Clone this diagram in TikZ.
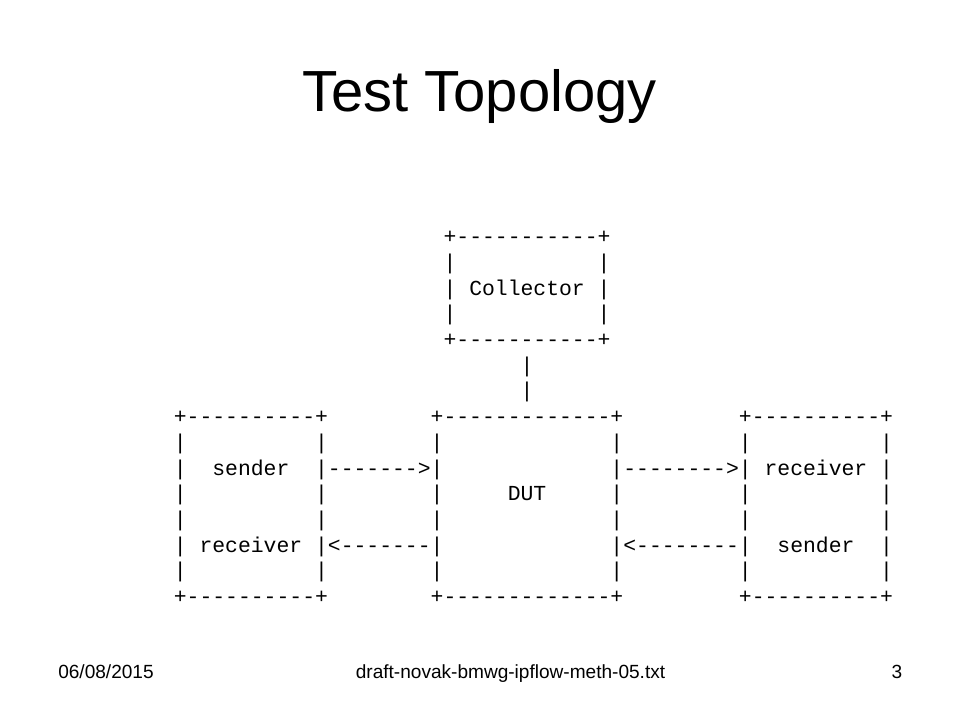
\documentclass[tikz,border=0pt]{standalone}
\usepackage{fontspec}
\setmainfont{Liberation Sans}
\setmonofont{Liberation Mono}
\tikzset{
  slidetitle/.style={anchor=base, inner sep=0pt, font=\fontsize{43.5}{50}\selectfont},
  ascii/.style={anchor=base west, inner sep=0pt, font=\ttfamily\fontsize{16.05}{19}\selectfont},
  footer/.style={anchor=base, inner sep=0pt, font=\fontsize{14.3}{17}\selectfont},
}
\begin{document}
\begin{tikzpicture}[x=0.75pt,y=-0.75pt]
	\fill[white] (0,0) rectangle (960,720);
	\node[slidetitle] (title) at (479.5,112) {Test Topology};
	% collector box, column 21
	\node[ascii] (row0) at (443.3,243.7) {+-----------+};
	\node[ascii] (row1) at (443.3,269.4) {|~~~~~~~~~~~|};
	\node[ascii] (row2) at (443.3,295.1) {|~Collector~|};
	\node[ascii] (row3) at (443.3,320.8) {|~~~~~~~~~~~|};
	\node[ascii] (row4) at (443.3,346.5) {+-----------+};
	% link down to the DUT, column 27
	\node[ascii] (row5) at (520.3,372.2) {|};
	\node[ascii] (row6) at (520.3,397.9) {|};
	% sender/receiver, DUT, receiver/sender
	\node[ascii] (row7) at (173.6,423.6) {+----------+~~~~~~~~+-------------+~~~~~~~~~+----------+};
	\node[ascii] (row8) at (173.6,449.3) {|~~~~~~~~~~|~~~~~~~~|~~~~~~~~~~~~~|~~~~~~~~~|~~~~~~~~~~|};
	\node[ascii] (row9) at (173.6,475.0) {|~~sender~~|------->|~~~~~~~~~~~~~|-------->|~receiver~|};
	\node[ascii] (row10) at (173.6,500.7) {|~~~~~~~~~~|~~~~~~~~|~~~~~DUT~~~~~|~~~~~~~~~|~~~~~~~~~~|};
	\node[ascii] (row11) at (173.6,526.4) {|~~~~~~~~~~|~~~~~~~~|~~~~~~~~~~~~~|~~~~~~~~~|~~~~~~~~~~|};
	\node[ascii] (row12) at (173.6,552.1) {|~receiver~|<-------|~~~~~~~~~~~~~|<--------|~~sender~~|};
	\node[ascii] (row13) at (173.6,577.8) {|~~~~~~~~~~|~~~~~~~~|~~~~~~~~~~~~~|~~~~~~~~~|~~~~~~~~~~|};
	\node[ascii] (row14) at (173.6,603.5) {+----------+~~~~~~~~+-------------+~~~~~~~~~+----------+};
	% footer
	\node[footer,anchor=base west] (date) at (58,678) {06/08/2015};
	\node[footer] (draft) at (510.5,678) {draft-novak-bmwg-ipflow-meth-05.txt};
	\node[footer] (page) at (897,678) {3};
\end{tikzpicture}
\end{document}
